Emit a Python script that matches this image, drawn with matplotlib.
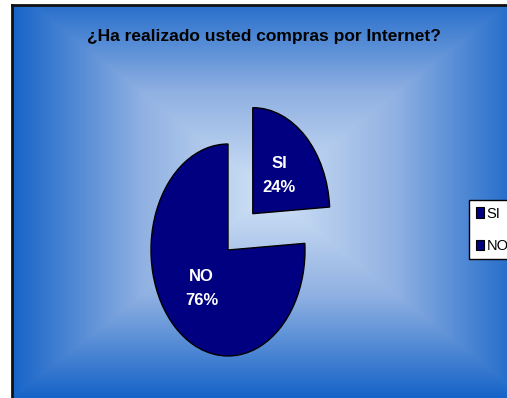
import numpy as np
import matplotlib.pyplot as plt
from matplotlib.colors import LinearSegmentedColormap
from matplotlib.patches import Patch

labels = ["SI", "NO"]
values = [24, 76]
title = "¿Ha realizado usted compras por Internet?"

W, H = 507, 398
fig = plt.figure(figsize=(W / 100, H / 100), dpi=100)
fig.patch.set_facecolor("white")

narrow = ["Liberation Sans Narrow", "Liberation Sans", "DejaVu Sans"]

# --- background: rectangular gradient from the centre ---
x0, y0 = 12, 5
bg = fig.add_axes([x0 / W, 0, 1 - x0 / W, 1 - y0 / H])
nx_, ny_ = 400, 320
xx, yy = np.meshgrid(np.linspace(0, 1, nx_), np.linspace(0, 1, ny_))
cx, cy = 0.52, 0.52
d = np.maximum(np.abs(xx - cx) / 0.52, np.abs(yy - cy) / 0.52)
d = np.clip(d, 0, 1)
cmap = LinearSegmentedColormap.from_list("bg", ["#d2e3f6", "#8fb0e2", "#1664c8"])
bg.imshow(d, cmap=cmap, aspect="auto", extent=(0, 1, 0, 1), origin="lower",
          interpolation="bilinear")
bg.set_xlim(0, 1)
bg.set_ylim(0, 1)
bg.set_xticks([])
bg.set_yticks([])
for side in ["right", "bottom"]:
    bg.spines[side].set_visible(False)
for side in ["left", "top"]:
    bg.spines[side].set_color("#111111")
    bg.spines[side].set_linewidth(2)

# --- pie ---
ax = fig.add_axes([0, 0, 1, 1])
ax.patch.set_alpha(0)
pie_cx, pie_cy, rx, ry = 228, 250, 77, 106


def fmt(pct):
    i = int(round(pct))
    return f"{labels[values.index(i)]}\n{i}%"


wedges, texts, autotexts = ax.pie(
    values,
    explode=[0.47, 0],
    startangle=90,
    counterclock=False,
    colors=["#000080", "#000080"],
    wedgeprops=dict(edgecolor="black", linewidth=1),
    autopct=fmt,
    pctdistance=0.5,
    textprops=dict(color="white", fontsize=12, fontweight="bold", family=narrow,
                   linespacing=1.75),
)
ax.set_aspect("auto")
ax.set_xlim((0 - pie_cx) / rx, (W - pie_cx) / rx)
ax.set_ylim((pie_cy - H) / ry, (pie_cy - 0) / ry)
ax.axis("off")

fig.text(264 / W, 1 - 37 / H, title, ha="center", va="center",
         fontsize=12.5, fontweight="bold", family=narrow, color="black")

handles = [Patch(facecolor="#000080", edgecolor="black", linewidth=0.8) for _ in labels]
leg = fig.legend(
    handles, labels,
    loc="upper left",
    bbox_to_anchor=(469 / W, 1 - 200 / H),
    frameon=True,
    fancybox=False,
    edgecolor="black",
    framealpha=1,
    prop=dict(family=narrow, size=10.5),
    handlelength=0.6,
    handleheight=0.7,
    handletextpad=0.15,
    borderpad=0.45,
    labelspacing=1.25,
    borderaxespad=0,
)
leg.get_frame().set_linewidth(1)

fig.savefig("out.png", dpi=100)
